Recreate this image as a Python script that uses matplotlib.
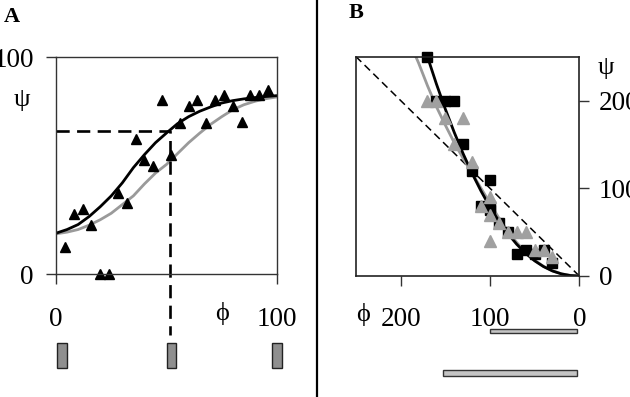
import matplotlib
matplotlib.use("Agg")
import matplotlib.pyplot as plt

plt.rcParams['font.family'] = ['Liberation Serif', 'DejaVu Serif']

# panel A: data points and the two fitted curves
a_x = [4, 8, 12, 16, 20, 24, 28, 32, 36, 40, 44, 48, 52, 56, 60, 64, 68, 72,
       76, 80, 84, 88, 92, 96]
a_y = [12.6, 27.7, 29.9, 22.6, 0, 0, 37.5, 32.6, 62.4, 52.6, 50, 80, 54.8,
       69.8, 77.2, 80, 69.8, 80, 82.5, 77.2, 70.1, 82.5, 82.5, 84.9]
curve_x = [0, 5, 10, 15, 20, 25, 30, 35, 40, 45, 50, 55, 60, 65, 70, 75, 80,
           85, 90, 95, 100]
black_a = [18.8, 20.5, 22.8, 26.5, 31, 36, 42, 49, 55, 60.5, 65, 69.3, 72.5,
           75, 77, 78.8, 79.9, 80.7, 81.3, 81.8, 82.2]
grey_a = [18.5, 19.3, 20.5, 22.5, 25, 28, 32, 36, 41.5, 46.5, 50.5, 55.5,
          60.5, 64.9, 69, 72.5, 75.7, 78, 79.6, 80.8, 81.6]
dash_a_x = [0, 51.4, 51.4]
dash_a_y = [65.7, 65.7, -28]
box_a_x = [0.5, 50, 97.7]

# panel B: squares (black) and triangles (grey)
sq_x = [170, 160, 150, 140, 130, 120, 100, 110, 100, 100, 90, 80, 70, 60, 50,
        40, 30]
sq_y = [250, 200, 200, 200, 150, 120, 110, 80, 80, 75, 60, 50, 25, 30, 25,
        30, 15]
tr_x = [170, 160, 150, 130, 140, 120, 110, 100, 100, 100, 90, 80, 70, 60, 50,
        40, 30]
tr_y = [200, 200, 180, 180, 150, 130, 80, 90, 70, 40, 60, 50, 50, 50, 30, 30,
        22]
black_b_x = [0, 10, 20, 30, 40, 50, 60, 70, 80, 90, 100, 110, 120, 130, 140,
             150, 160, 170]
black_b_y = [0, 0.5, 2.4, 5.7, 10.7, 17.3, 25.8, 36.1, 48.4, 62.5, 78.6, 96.8,
             117, 139.3, 163.7, 190.3, 219, 250]
grey_b_x = [0, 10, 20, 30, 40, 50, 60, 70, 80, 90, 100, 110, 120, 130, 140,
            150, 160, 170, 180, 183]
grey_b_y = [0, 0.7, 2.5, 6, 11, 18, 27, 38, 51, 66, 83, 100, 117, 134, 152,
            172, 193, 217, 243, 250]
diag = [0, 250]
bar_b_start = [2.6, 2.6]
bar_b_len = [97.4, 150]

fig = plt.figure(figsize=(6.3, 3.97), dpi=100)

# ---------------- panel A
ax = fig.add_axes([0.0889, 0.3098, 0.3508, 0.5466])
ax.plot(curve_x, grey_a, color='#9a9a9a', lw=2.0)
ax.plot(curve_x, black_a, color='black', lw=2.0)
ax.plot(a_x, a_y, '^', color='black', ms=6.5, clip_on=False)
ax.plot(dash_a_x, dash_a_y, '--', color='black', lw=1.9, dashes=(5, 2.8),
        clip_on=False)
ax.bar(box_a_x, -11.6, bottom=-31.8, width=4.5, align='edge',
       color='#8f8f8f', edgecolor='#222222', lw=1.0, clip_on=False)
ax.set_xlim(0, 100)
ax.set_ylim(0, 100)
ax.set_xticks([0, 100])
ax.set_yticks([0, 100])
ax.tick_params(axis='both', direction='out', length=7, width=1,
               labelsize=19.5, color='#333333')
ax.tick_params(axis='x', pad=17)
ax.tick_params(axis='y', pad=9)
for s in ax.spines.values():
    s.set_color('#333333')
    s.set_linewidth(1)
ax.text(-0.155, 0.8, 'ψ', transform=ax.transAxes, fontsize=19,
        ha='center', va='center')
ax.text(0.75, -0.18, 'ϕ', transform=ax.transAxes, fontsize=19,
        ha='center', va='center')

# ---------------- panel B
bx = fig.add_axes([0.5651, 0.3048, 0.3544, 0.5524])
bx.plot(diag, diag, '--', color='black', lw=1.1, dashes=(5, 3))
bx.plot(grey_b_x, grey_b_y, color='#9a9a9a', lw=2.0)
bx.plot(black_b_x, black_b_y, color='black', lw=2.0)
bx.plot(sq_x, sq_y, 's', color='black', ms=7, clip_on=False)
bx.plot(tr_x, tr_y, '^', color='#a0a0a0', ms=8, clip_on=False)
bx.barh([-60.4, -107], bar_b_len, left=bar_b_start, height=[-4.6, -7],
        align='edge', color='#c4c4c4', edgecolor='#333333', lw=1.0,
        clip_on=False)
bx.set_xlim(250, 0)
bx.set_ylim(0, 250)
bx.set_xticks([200, 100, 0])
bx.set_yticks([0, 100, 200])
bx.yaxis.tick_right()
bx.tick_params(axis='both', direction='out', length=7, width=1,
               labelsize=19.5, color='#333333')
bx.tick_params(axis='x', pad=15)
bx.tick_params(axis='y', pad=7)
for s in bx.spines.values():
    s.set_color('#222222')
    s.set_linewidth(1.2)
bx.text(1.12, 0.95, 'ψ', transform=bx.transAxes, fontsize=19,
        ha='center', va='center')
bx.text(0.03, -0.175, 'ϕ', transform=bx.transAxes, fontsize=19,
        ha='center', va='center')

# panel letters and separator
fig.text(0.006, 0.958, 'A', fontsize=16, fontweight='bold', va='center')
fig.text(0.553, 0.966, 'B', fontsize=16, fontweight='bold', va='center')
fig.add_artist(plt.Line2D([0.503, 0.503], [0, 1], color='black', lw=1.6))

fig.savefig('out.png', dpi=100)
